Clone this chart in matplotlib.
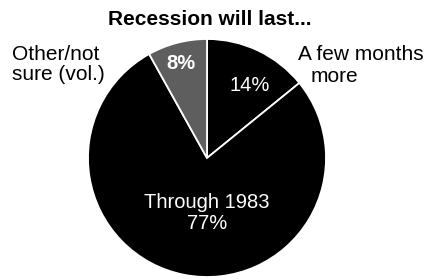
import matplotlib
matplotlib.use("Agg")
import matplotlib.pyplot as plt
import numpy as np

title = "Recession will last..."
categories = ["A few months more", "Through 1983", "Other/not sure (vol.)"]
values = [14, 77, 8]
pct_labels = ["14%", "77%", "8%"]
colors = ["#000000", "#000000", "#5e5e5e"]

plt.rcParams['font.family'] = ['Liberation Sans', 'DejaVu Sans']

fig = plt.figure(figsize=(4.27, 2.79), dpi=100)
W, H = 427, 279
cx, cy, r = 207, 158, 119
ax = fig.add_axes([(cx - r) / W, (H - cy - r) / H, 2 * r / W, 2 * r / H])
wedges, _ = ax.pie(values, colors=colors, startangle=90, counterclock=False,
                   radius=1.0,
                   wedgeprops=dict(edgecolor="white", linewidth=1.3))
ax.set_xlim(-1, 1)
ax.set_ylim(-1, 1)
ax.set_aspect('auto')
ax.axis('off')

# inside labels
ax.text(0.36, 0.61, pct_labels[0], color="white", fontsize=14.5,
        ha="center", va="center")
ax.text(-0.22, 0.79, pct_labels[2], color="white", fontsize=14.5,
        fontweight="bold", ha="center", va="center")
ax.text(0.0, -0.46, "Through 1983\n" + pct_labels[1], color="white",
        fontsize=14.5, ha="center", va="center", linespacing=1.15)

# outside labels
fig.text(12 / W, 1 - 45 / H, "Other/not\nsure (vol.)", fontsize=15,
         ha="left", va="top", linespacing=1.05)
fig.text(298 / W, 1 - 45 / H, "A few months", fontsize=15,
         ha="left", va="top")
fig.text(311 / W, 1 - 67 / H, "more", fontsize=15,
         ha="left", va="top")

fig.text(210 / W, 1 - 10 / H, title, fontsize=15, fontweight="bold",
         ha="center", va="top")

fig.savefig("out.png", dpi=100)
